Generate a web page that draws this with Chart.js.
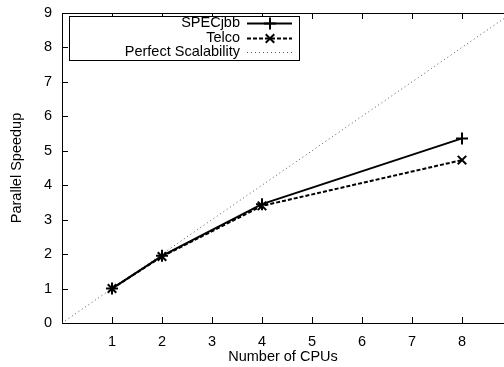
<!DOCTYPE html>
<html>
<head>
<meta charset="utf-8">
<script src="https://cdn.jsdelivr.net/npm/chart.js@4/dist/chart.umd.min.js"></script>
<style>
  html, body { margin: 0; padding: 0; background: #fff; }
  #wrap { width: 504px; height: 367px; }
</style>
</head>
<body>
<div id="wrap"><canvas id="chart" width="504" height="367"></canvas></div>
<script>
const cpus = [1, 2, 4, 8];
const specjbb = [1, 1.95, 3.45, 5.36];
const telco = [1, 1.93, 3.4, 4.73];
const perfectX = [0, 9];
const perfectY = [0, 9];
const yTicks = [0, 1, 2, 3, 4, 5, 6, 7, 8, 9];
const xTicks = [1, 2, 3, 4, 5, 6, 7, 8];

const FONT = "Liberation Sans, Arial, sans-serif";
const FSIZE = 14.5;

const toPts = (xs, ys) => xs.map((x, i) => ({ x: x, y: ys[i] }));

// gnuplot style: inward ticks, mirrored top ticks, boxed legend
const gnuplotFrame = {
  id: "gnuplotFrame",
  afterDatasetsDraw(chart) {
    const ctx = chart.ctx;
    const a = chart.chartArea;
    const xs = chart.scales.x;
    const ys = chart.scales.y;
    ctx.save();
    ctx.strokeStyle = "#000";
    ctx.lineWidth = 1;
    ctx.beginPath();
    ctx.moveTo(a.left, a.top + 0.5);
    ctx.lineTo(a.right, a.top + 0.5);
    xTicks.forEach((v) => {
      const px = Math.round(xs.getPixelForValue(v)) + 0.5;
      ctx.moveTo(px, a.bottom);
      ctx.lineTo(px, a.bottom - 6);
      ctx.moveTo(px, a.top);
      ctx.lineTo(px, a.top + 6);
    });
    yTicks.forEach((v) => {
      const py = Math.round(ys.getPixelForValue(v)) + 0.5;
      ctx.moveTo(a.left, py);
      ctx.lineTo(a.left + 6, py);
    });
    ctx.stroke();

    // legend
    const bx = 69.5, by = 16.5, bw = 230, bh = 44;
    ctx.fillStyle = "#fff";
    ctx.fillRect(bx, by, bw, bh);
    ctx.strokeRect(bx, by, bw, bh);
    ctx.font = FSIZE + "px " + FONT;
    ctx.textAlign = "right";
    ctx.textBaseline = "middle";
    ctx.fillStyle = "#000";
    const rows = [23, 38, 52];
    chart.data.datasets.forEach((ds, i) => {
      const y = rows[i] + 0.5;
      ctx.fillText(ds.label, 240, rows[i]);
      ctx.save();
      ctx.strokeStyle = ds.borderColor;
      ctx.lineWidth = ds.borderWidth;
      ctx.setLineDash(ds.borderDash || []);
      ctx.beginPath();
      ctx.moveTo(247, y);
      ctx.lineTo(292, y);
      ctx.stroke();
      ctx.setLineDash([]);
      if (ds.pointRadius > 0) {
        Chart.helpers.drawPoint(ctx, {
          pointStyle: ds.pointStyle,
          radius: ds.pointRadius,
          borderWidth: ds.pointBorderWidth,
          rotation: 0
        }, 270, y);
      }
      ctx.restore();
    });
    ctx.restore();
  }
};

new Chart(document.getElementById("chart").getContext("2d"), {
  type: "scatter",
  data: {
    datasets: [
      {
        label: "SPECjbb",
        data: toPts(cpus, specjbb),
        showLine: true,
        borderColor: "#000",
        backgroundColor: "#000",
        borderWidth: 2,
        pointStyle: "cross",
        pointRadius: 6,
        pointBorderWidth: 2,
        tension: 0
      },
      {
        label: "Telco",
        data: toPts(cpus, telco),
        showLine: true,
        borderColor: "#000",
        backgroundColor: "#000",
        borderWidth: 2,
        borderDash: [4, 2],
        pointStyle: "crossRot",
        pointRadius: 6,
        pointBorderWidth: 2,
        tension: 0
      },
      {
        label: "Perfect Scalability",
        data: toPts(perfectX, perfectY),
        showLine: true,
        borderColor: "#555",
        borderWidth: 1,
        borderDash: [1, 3],
        pointRadius: 0,
        tension: 0
      }
    ]
  },
  options: {
    responsive: false,
    animation: false,
    events: [],
    layout: { autoPadding: false, padding: { top: 13, right: 0, left: 0, bottom: 0 } },
    plugins: { legend: { display: false }, tooltip: { enabled: false } },
    scales: {
      x: {
        type: "linear",
        min: 0,
        max: 8.84,
        afterFit: (s) => { s.height = 44; s.paddingLeft = 0; s.paddingRight = 0; },
        afterBuildTicks: (s) => { s.ticks = xTicks.map((v) => ({ value: v })); },
        grid: { display: false, drawTicks: false },
        border: { color: "#000", width: 1 },
        ticks: { color: "#000", font: { family: FONT, size: FSIZE }, padding: 10, maxRotation: 0 },
        title: { display: true, text: "Number of CPUs", color: "#000", font: { family: FONT, size: FSIZE }, padding: { top: 3, bottom: 1 } }
      },
      y: {
        type: "linear",
        min: 0,
        max: 9,
        afterFit: (s) => { s.width = 62; s.paddingTop = 0; s.paddingBottom = 0; },
        afterBuildTicks: (s) => { s.ticks = yTicks.map((v) => ({ value: v })); },
        grid: { display: false, drawTicks: false },
        border: { color: "#000", width: 1 },
        ticks: { color: "#000", font: { family: FONT, size: FSIZE }, padding: 10 },
        title: { display: true, text: "Parallel Speedup", color: "#000", font: { family: FONT, size: FSIZE }, padding: { top: 8, bottom: 8 } }
      }
    }
  },
  plugins: [gnuplotFrame]
});
</script>
</body>
</html>
